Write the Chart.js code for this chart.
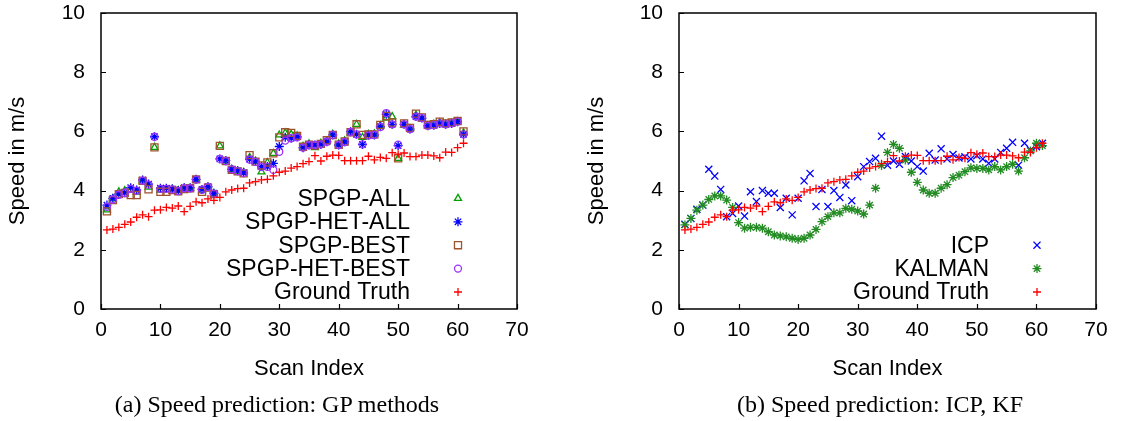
<!DOCTYPE html>
<html>
<head>
<meta charset="utf-8">
<script src="https://cdn.jsdelivr.net/npm/chart.js@4.4.1/dist/chart.umd.min.js"></script>
<style>
  body { margin: 0; background: #fff; width: 1122px; height: 421px; position: relative; overflow: hidden; }
  .panel { position: absolute; top: 0; width: 561px; height: 421px; }
  .cap { position: absolute; top: 390px; font-family: "Liberation Serif", "Times New Roman", serif;
         font-size: 24px; line-height: 28px; white-space: nowrap; transform: translateX(-50%); color: #000; }
</style>
</head>
<body>
<div class="panel" style="left:0"><canvas id="chartA" width="561" height="421"></canvas></div>
<div class="panel" style="left:561px"><canvas id="chartB" width="561" height="421"></canvas></div>
<div class="cap" style="left:277px">(a) Speed prediction: GP methods</div>
<div class="cap" style="left:880px">(b) Speed prediction: ICP, KF</div>

<script>
// scan index (x) shared by every series
var scanIndex = [1,2,3,4,5,6,7,8,9,10,11,12,13,14,15,16,17,18,19,20,
  21,22,23,24,25,26,27,28,29,30,31,32,33,34,35,36,37,38,39,40,
  41,42,43,44,45,46,47,48,49,50,51,52,53,54,55,56,57,58,59,60,61];

var groundTruth = [2.67,2.70,2.76,2.86,2.94,3.10,3.18,3.12,3.34,3.35,
  3.43,3.41,3.48,3.29,3.47,3.62,3.59,3.72,3.67,3.77,
  3.96,4.02,4.07,4.08,4.26,4.30,4.36,4.38,4.50,4.62,
  4.66,4.76,4.81,4.91,4.98,5.18,5.00,5.16,5.20,5.19,
  5.01,5.01,5.01,5.01,5.16,5.04,5.12,5.09,5.28,5.23,
  5.27,5.15,5.15,5.20,5.20,5.17,5.11,5.30,5.29,5.45,5.60];

// panel (a)
var spgpAll = [3.35,3.72,3.96,4.00,4.02,3.95,4.33,4.12,5.46,4.02,
  4.04,4.05,4.00,4.08,4.08,4.36,4.00,4.11,3.90,5.51,
  5.00,4.72,4.66,4.62,5.12,5.00,4.63,4.95,5.26,5.88,
  5.95,5.90,5.85,5.50,5.58,5.45,5.60,5.68,5.90,5.58,
  5.68,5.95,6.24,5.80,5.90,5.92,6.20,6.45,6.50,5.09,
  6.22,6.10,6.55,6.42,6.20,6.25,6.30,6.25,6.28,6.33,5.95];

var spgpHetAll = [3.51,3.74,3.88,3.93,4.10,4.02,4.36,4.22,5.82,4.08,
  4.08,4.05,4.00,4.10,4.10,4.38,4.04,4.13,3.91,5.07,
  5.01,4.72,4.67,4.60,5.06,4.98,4.81,4.81,4.92,5.49,
  5.80,5.77,5.82,5.45,5.54,5.54,5.56,5.65,5.88,5.54,
  5.65,5.99,5.90,5.56,5.88,5.88,6.16,6.58,6.24,5.52,
  6.24,6.08,6.50,6.45,6.19,6.21,6.27,6.24,6.27,6.33,5.90];

var spgpBest = [3.30,3.68,3.88,3.92,3.85,3.85,4.33,4.04,5.46,3.96,
  3.96,4.02,3.98,4.05,4.08,4.38,3.96,4.10,3.88,5.51,
  5.00,4.70,4.65,4.58,5.20,4.98,4.85,4.95,5.26,5.80,
  5.97,5.95,5.85,5.48,5.55,5.52,5.58,5.70,5.88,5.55,
  5.66,5.97,6.24,5.88,5.90,5.90,6.22,6.52,6.30,5.09,
  6.27,6.12,6.60,6.47,6.22,6.24,6.33,6.27,6.30,6.35,6.00];

var spgpHetBest = [3.45,3.70,3.86,3.92,4.06,4.00,4.34,4.20,5.82,4.06,
  4.06,4.04,3.98,4.08,4.08,4.37,4.03,4.12,3.90,5.07,
  5.00,4.72,4.66,4.60,5.05,4.97,4.80,4.80,4.70,5.31,
  5.69,5.77,5.80,5.45,5.54,5.54,5.56,5.65,5.88,5.54,
  5.64,5.98,5.90,5.56,5.86,5.88,6.15,6.62,6.24,5.55,
  6.24,6.08,6.50,6.45,6.19,6.21,6.27,6.24,6.27,6.33,5.90];

// panel (b)
var icp = [2.86,3.06,3.37,3.51,4.72,4.49,4.04,3.12,3.23,3.48,
  3.14,3.96,3.63,4.00,3.91,3.91,3.43,3.74,3.18,3.74,
  4.33,4.58,3.46,4.04,3.46,4.00,3.77,4.19,3.66,4.47,
  4.81,4.98,5.09,5.84,4.86,5.00,4.89,5.15,5.00,4.81,
  4.66,5.26,5.03,5.41,5.07,5.22,5.10,5.14,5.07,5.18,
  5.07,4.92,5.07,5.29,5.43,5.63,4.86,5.60,5.37,5.48,5.60];

var kalman = [2.84,3.06,3.34,3.51,3.70,3.82,3.82,3.68,3.43,2.92,
  2.73,2.76,2.76,2.73,2.61,2.50,2.47,2.44,2.39,2.35,
  2.39,2.50,2.69,2.95,3.12,3.25,3.25,3.40,3.37,3.31,
  3.21,3.51,4.08,4.85,5.29,5.56,5.43,5.03,4.62,4.28,
  4.02,3.91,3.91,4.08,4.20,4.44,4.52,4.64,4.77,4.75,
  4.75,4.70,4.81,4.70,4.81,4.89,4.66,5.11,5.34,5.60,5.52];

var xTicks = { min: 0, max: 70, step: 10 };
var yTicks = { min: 0, max: 10, step: 2 };

var FONT = '"Liberation Sans", Arial, sans-serif';

function pts(vals) {
  return vals.map(function (v, i) { return { x: scanIndex[i], y: v }; });
}

function series(label, vals, color, style, r, order) {
  return {
    label: label,
    data: pts(vals),
    borderColor: color,
    backgroundColor: 'rgba(0,0,0,0)',
    pointStyle: style,
    pointRadius: r,
    pointBorderWidth: 1.3,
    pointHoverRadius: r,
    order: order
  };
}

// box around the plot and inward ticks on left/bottom
var frame = {
  id: 'frame',
  afterDraw: function (chart) {
    var ctx = chart.ctx, a = chart.chartArea, sx = chart.scales.x, sy = chart.scales.y;
    ctx.save();
    ctx.strokeStyle = '#000';
    ctx.lineWidth = 1.2;
    ctx.beginPath();
    sx.ticks.forEach(function (t) {
      var px = Math.round(sx.getPixelForValue(t.value)) + 0.5;
      ctx.moveTo(px, a.bottom); ctx.lineTo(px, a.bottom - 5);
    });
    sy.ticks.forEach(function (t) {
      var py = Math.round(sy.getPixelForValue(t.value)) + 0.5;
      ctx.moveTo(a.left, py); ctx.lineTo(a.left + 5, py);
    });
    ctx.stroke();
    ctx.lineWidth = 1.5;
    ctx.strokeRect(a.left, a.top, a.right - a.left, a.bottom - a.top);
    ctx.restore();
  }
};

// gnuplot-like key: text right aligned, symbol to its right, bottom right of plot
var key = {
  id: 'key',
  afterDraw: function (chart) {
    var ctx = chart.ctx, a = chart.chartArea, ds = chart.data.datasets;
    ctx.save();
    ctx.font = '23px ' + FONT;
    ctx.textAlign = 'right';
    ctx.textBaseline = 'middle';
    ds.forEach(function (d, k) {
      var y = a.bottom - 17 - (ds.length - 1 - k) * 23.4;
      ctx.fillStyle = '#000';
      ctx.fillText(d.label, a.right - 107, y + 1);
      ctx.strokeStyle = d.borderColor;
      ctx.fillStyle = 'rgba(0,0,0,0)';
      ctx.lineWidth = 1.3;
      Chart.helpers.drawPoint(ctx, { pointStyle: d.pointStyle, radius: d.pointRadius, rotation: 0, borderWidth: 1.3 }, a.right - 59, y);
    });
    ctx.restore();
  }
};

function makeChart(id, datasets, padLeft, yWidth, padRight) {
  return new Chart(document.getElementById(id), {
    type: 'scatter',
    data: { datasets: datasets },
    options: {
      responsive: false,
      animation: false,
      devicePixelRatio: 1,
      layout: { padding: { left: padLeft, right: padRight, top: 13, bottom: 31 } },
      plugins: { legend: { display: false }, tooltip: { enabled: false } },
      scales: {
        x: {
          type: 'linear', min: xTicks.min, max: xTicks.max,
          ticks: { stepSize: xTicks.step, color: '#000', font: { family: FONT, size: 21 }, padding: 9, maxRotation: 0 },
          grid: { display: false, drawTicks: false },
          border: { display: false },
          title: { display: true, text: 'Scan Index', color: '#000', font: { family: FONT, size: 22 }, padding: { top: 0, bottom: 8 } },
          afterFit: function (s) { s.height = 81; s.paddingLeft = 0; s.paddingRight = 0; }
        },
        y: {
          type: 'linear', min: yTicks.min, max: yTicks.max,
          ticks: { stepSize: yTicks.step, color: '#000', font: { family: FONT, size: 21 }, padding: 16 },
          grid: { display: false, drawTicks: false },
          border: { display: false },
          title: { display: true, text: 'Speed in m/s', color: '#000', font: { family: FONT, size: 22 }, padding: { top: 5, bottom: 0 } },
          afterFit: function (s) { s.width = yWidth; s.paddingTop = 0; s.paddingBottom = 0; }
        }
      }
    },
    plugins: [frame, key]
  });
}

makeChart('chartA', [
  series('SPGP-ALL', spgpAll, '#00a000', 'triangle', 4, 5),
  series('SPGP-HET-ALL', spgpHetAll, '#0000ff', 'star', 4.5, 4),
  series('SPGP-BEST', spgpBest, '#a0522d', 'rect', 5, 3),
  series('SPGP-HET-BEST', spgpHetBest, '#9b30ff', 'circle', 3.5, 2),
  series('Ground Truth', groundTruth, '#ff0000', 'cross', 4, 1)
], 0, 101, 44);

makeChart('chartB', [
  series('ICP', icp, '#0000ff', 'crossRot', 5, 3),
  series('KALMAN', kalman, '#228b22', 'star', 4.5, 2),
  series('Ground Truth', groundTruth, '#ff0000', 'cross', 4, 1)
], 18, 100, 26);
</script>
</body>
</html>
